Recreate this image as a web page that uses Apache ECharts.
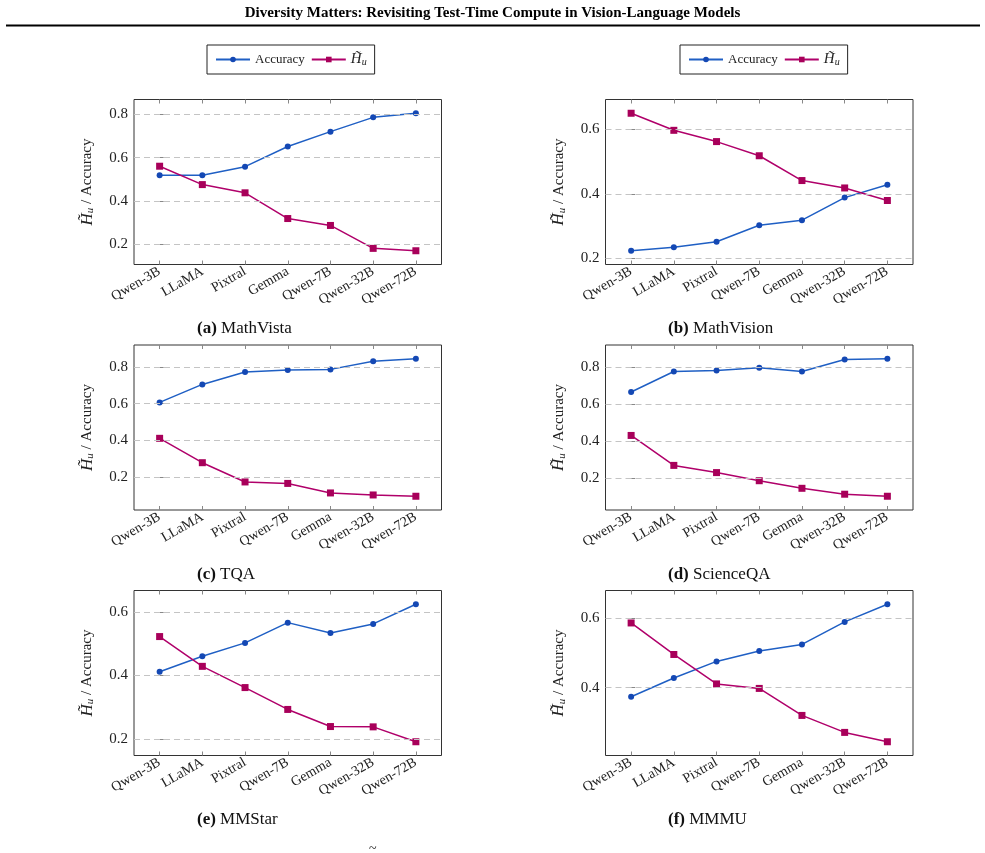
<!DOCTYPE html>
<html>
<head>
<meta charset="utf-8">
<script src="https://cdn.jsdelivr.net/npm/echarts@6/dist/echarts.min.js"></script>
<style>
  body { margin: 0; background: #fff; }
  #chart { width: 985px; height: 853px; }
</style>
</head>
<body>
<div id="chart"></div>
<script>
// model order used on the x axis
const orderA = ['Qwen-3B', 'LLaMA', 'Pixtral', 'Gemma', 'Qwen-7B', 'Qwen-32B', 'Qwen-72B'];
const orderB = ['Qwen-3B', 'LLaMA', 'Pixtral', 'Qwen-7B', 'Gemma', 'Qwen-32B', 'Qwen-72B'];

// values
const mathvistaAcc = [0.518, 0.518, 0.558, 0.651, 0.720, 0.786, 0.805];
const mathvistaH = [0.560, 0.475, 0.437, 0.318, 0.286, 0.180, 0.169];
const mathvisionAcc = [0.223, 0.234, 0.251, 0.302, 0.318, 0.388, 0.428];
const mathvisionH = [0.650, 0.597, 0.562, 0.518, 0.441, 0.418, 0.379];
const tqaAcc = [0.607, 0.705, 0.773, 0.784, 0.787, 0.831, 0.845];
const tqaH = [0.411, 0.278, 0.173, 0.165, 0.113, 0.102, 0.095];
const scienceqaAcc = [0.667, 0.778, 0.784, 0.798, 0.778, 0.843, 0.847];
const scienceqaH = [0.432, 0.270, 0.231, 0.187, 0.146, 0.114, 0.103];
const mmstarAcc = [0.412, 0.461, 0.503, 0.567, 0.534, 0.563, 0.625];
const mmstarH = [0.523, 0.429, 0.362, 0.293, 0.239, 0.238, 0.191];
const mmmuAcc = [0.374, 0.428, 0.476, 0.506, 0.525, 0.590, 0.641];
const mmmuH = [0.587, 0.496, 0.411, 0.398, 0.320, 0.271, 0.244];

// y tick labels per panel
const ticksA = [0.2, 0.4, 0.6, 0.8];
const ticksB = [0.2, 0.4, 0.6];
const ticksC = [0.2, 0.4, 0.6, 0.8];
const ticksD = [0.2, 0.4, 0.6, 0.8];
const ticksE = [0.2, 0.4, 0.6];
const ticksF = [0.4, 0.6];

const panels = [
  { tag: '(a)', name: 'MathVista', order: orderA, acc: mathvistaAcc, h: mathvistaH, ticks: ticksA, left: 134, top: 99.5 },
  { tag: '(b)', name: 'MathVision', order: orderB, acc: mathvisionAcc, h: mathvisionH, ticks: ticksB, left: 605.5, top: 99.5 },
  { tag: '(c)', name: 'TQA', order: orderB, acc: tqaAcc, h: tqaH, ticks: ticksC, left: 134, top: 345 },
  { tag: '(d)', name: 'ScienceQA', order: orderB, acc: scienceqaAcc, h: scienceqaH, ticks: ticksD, left: 605.5, top: 345 },
  { tag: '(e)', name: 'MMStar', order: orderB, acc: mmstarAcc, h: mmstarH, ticks: ticksE, left: 134, top: 590.5 },
  { tag: '(f)', name: 'MMMU', order: orderB, acc: mmmuAcc, h: mmmuH, ticks: ticksF, left: 605.5, top: 590.5 }
];

const BLUE = '#1f5fc4';
const MAGENTA = '#b0006a';
const SERIF = '"Liberation Serif", "DejaVu Serif", serif';
const catIdx = [0, 1, 2, 3, 4, 5, 6];

// pgfplots style: 10% enlargement of the data range
function limits(a, b) {
  const lo = Math.min(...a, ...b);
  const hi = Math.max(...a, ...b);
  const pad = (hi - lo) * 0.1;
  return [lo - pad, hi + pad];
}

const grid = [], xAxis = [], yAxis = [], series = [], graphic = [];

panels.forEach((p, i) => {
  const [ymin, ymax] = limits(p.acc, p.h);
  grid.push({
    left: p.left, top: p.top, width: 307.5, height: 165,
    show: true, borderColor: '#333', borderWidth: 1, backgroundColor: 'transparent'
  });
  const tickStyle = { show: true, inside: true, length: 4, lineStyle: { color: '#888', width: 1 } };
  xAxis.push({
    type: 'value', gridIndex: i, position: 'bottom', min: -0.6, max: 6.6,
    axisLine: { show: false }, splitLine: { show: false },
    axisTick: Object.assign({ customValues: catIdx }, tickStyle),
    axisLabel: {
      customValues: catIdx, rotate: 30, margin: 6,
      fontFamily: SERIF, fontSize: 14, color: '#222',
      formatter: (v) => p.order[Math.round(v)]
    }
  });
  xAxis.push({
    type: 'value', gridIndex: i, position: 'top', min: -0.6, max: 6.6,
    axisLine: { show: false }, splitLine: { show: false }, axisLabel: { show: false },
    axisTick: Object.assign({ customValues: catIdx }, tickStyle)
  });
  yAxis.push({
    type: 'value', gridIndex: i, position: 'left', min: ymin, max: ymax,
    axisLine: { show: false }, splitLine: { show: false },
    axisTick: Object.assign({ customValues: p.ticks }, tickStyle),
    axisLabel: {
      customValues: p.ticks, margin: 6,
      fontFamily: SERIF, fontSize: 15, color: '#222',
      formatter: (v) => v.toFixed(1)
    },
    name: '{i|H̃}{s|u} / Accuracy',
    nameLocation: 'middle', nameRotate: 90, nameGap: 38,
    nameTextStyle: {
      fontFamily: SERIF, fontSize: 15, color: '#222',
      rich: {
        i: { fontFamily: SERIF, fontSize: 17, fontStyle: 'italic', color: '#222' },
        s: { fontFamily: SERIF, fontSize: 11, fontStyle: 'italic', color: '#222', verticalAlign: 'bottom', padding: [6, 0, 0, 0] }
      }
    }
  });
  yAxis.push({
    type: 'value', gridIndex: i, position: 'right', min: ymin, max: ymax,
    axisLine: { show: false }, splitLine: { show: false }, axisLabel: { show: false },
    axisTick: Object.assign({ customValues: p.ticks }, tickStyle)
  });

  series.push({
    name: 'Accuracy', type: 'line', xAxisIndex: 2 * i, yAxisIndex: 2 * i,
    data: p.acc.map((v, k) => [k, v]),
    symbol: 'circle', symbolSize: 6, z: 3,
    lineStyle: { color: BLUE, width: 1.5 },
    itemStyle: { color: '#1448b4' },
    markLine: {
      silent: true, symbol: ['none', 'none'], label: { show: false },
      lineStyle: { color: '#c4c4c4', type: [6, 4], width: 1 },
      data: p.ticks.map((v) => ({ yAxis: v }))
    }
  });
  series.push({
    name: 'Hu', type: 'line', xAxisIndex: 2 * i, yAxisIndex: 2 * i,
    data: p.h.map((v, k) => [k, v]),
    symbol: 'rect', symbolSize: 7, z: 3,
    lineStyle: { color: MAGENTA, width: 1.5 },
    itemStyle: { color: '#a8005a' }
  });

  graphic.push({
    type: 'text', left: (i % 2 === 0 ? 257 : 728) - 60, top: p.top + 221,
    style: {
      text: '{b|' + p.tag + '} ' + p.name, width: 120, align: 'center',
      fontFamily: SERIF, fontSize: 17, fill: '#111',
      rich: { b: { fontFamily: SERIF, fontSize: 17, fontWeight: 'bold', fill: '#111' } }
    }
  });
});

const legendBase = {
  top: 45, orient: 'horizontal', data: ['Accuracy', 'Hu'],
  borderColor: '#222', borderWidth: 1, padding: [7, 8, 7, 8],
  itemWidth: 34, itemHeight: 7, itemGap: 6, backgroundColor: '#fff',
  textStyle: {
    fontFamily: SERIF, fontSize: 13, color: '#222',
    rich: {
      i: { fontFamily: SERIF, fontSize: 15, fontStyle: 'italic', color: '#222' },
      s: { fontFamily: SERIF, fontSize: 10, fontStyle: 'italic', color: '#222', verticalAlign: 'bottom', padding: [5, 0, 0, 0] }
    }
  },
  formatter: (n) => (n === 'Hu' ? '{i|H̃}{s|u}' : n)
};

graphic.push({
  type: 'text', left: 'center', top: 6,
  style: {
    text: 'Diversity Matters: Revisiting Test-Time Compute in Vision-Language Models',
    fontFamily: SERIF, fontSize: 15, fontWeight: 'bold', fill: '#000'
  }
});
graphic.push({
  type: 'line', shape: { x1: 6, y1: 25.5, x2: 980, y2: 25.5 },
  style: { stroke: '#000', lineWidth: 2 }
});
graphic.push({
  type: 'text', left: 369, top: 842,
  style: { text: '~', fontFamily: SERIF, fontSize: 14, fill: '#222' }
});

const myChart = echarts.init(document.getElementById('chart'), null, { renderer: 'canvas' });
myChart.setOption({
  animation: false,
  backgroundColor: '#fff',
  color: [BLUE, MAGENTA],
  legend: [
    Object.assign({ left: 207 }, legendBase),
    Object.assign({ left: 680 }, legendBase)
  ],
  grid: grid,
  xAxis: xAxis,
  yAxis: yAxis,
  series: series,
  graphic: graphic
});
</script>
</body>
</html>
